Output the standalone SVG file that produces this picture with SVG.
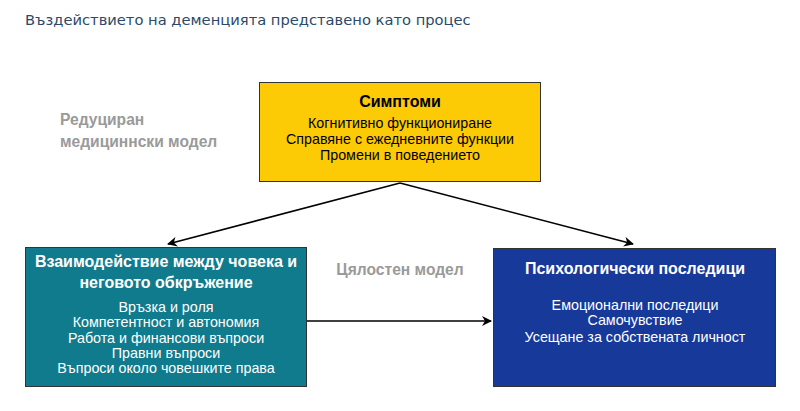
<svg xmlns="http://www.w3.org/2000/svg" width="800" height="411" viewBox="0 0 800 411">
<defs>
<marker id="ah" viewBox="0 0 10 10" refX="9" refY="5" markerWidth="10" markerHeight="10" markerUnits="userSpaceOnUse" orient="auto">
<path d="M0,0 L10,5 L0,10 L3,5 Z" fill="#000"/>
</marker>
<style>
.t{font-family:"Liberation Sans",Arial,sans-serif;text-anchor:middle}
.h{font-weight:bold;font-size:16px}
.b{font-size:14.3px}
.g{font-family:"Liberation Sans",Arial,sans-serif;font-weight:bold;font-size:15.6px;fill:#9a9a9a}
.w{fill:#fff}
.k{fill:#000}
.box{stroke:#333;stroke-width:1}
.c{fill:none;stroke:#000;stroke-width:1.5}
</style>
</defs>
<rect width="800" height="411" fill="#fff"/>
<text x="25" y="25" font-family="DejaVu Sans,Verdana,sans-serif" font-size="14.7" fill="#2b4968">Въздействието на деменцията представено като процес</text>
<text class="g" x="60" y="125">Редуциран</text>
<text class="g" x="60" y="147">медициннски модел</text>
<text class="g" x="400" y="275" text-anchor="middle" font-size="16">Цялостен модел</text>
<g id="connectors">
<line class="c" x1="400" y1="183" x2="168" y2="244" marker-end="url(#ah)"/>
<line class="c" x1="400" y1="183" x2="633" y2="244" marker-end="url(#ah)"/>
<line class="c" x1="307" y1="321" x2="491" y2="321" marker-end="url(#ah)"/>
</g>
<g id="symptoms">
<rect class="box" x="259.5" y="82.5" width="281" height="99" fill="#fccb05"/>
<text class="t h k" x="400" y="107">Симптоми</text>
<text class="t b k" x="400" y="128">Когнитивно функциониране</text>
<text class="t b k" x="400" y="144">Справяне с ежедневните функции</text>
<text class="t b k" x="400" y="160">Промени в поведението</text>
</g>
<g id="interaction">
<rect class="box" x="25.5" y="247.5" width="281" height="139" fill="#107b8d"/>
<text class="t h w" x="166" y="267">Взаимодействие между човека и</text>
<text class="t h w" x="166" y="288">неговото обкръжение</text>
<text class="t b w" x="166" y="312">Връзка и роля</text>
<text class="t b w" x="166" y="327">Компетентност и автономия</text>
<text class="t b w" x="166" y="343">Работа и финансови въпроси</text>
<text class="t b w" x="166" y="358">Правни въпроси</text>
<text class="t b w" x="166" y="373">Въпроси около човешките права</text>
</g>
<g id="psych">
<rect class="box" x="493.5" y="248.5" width="282" height="138" fill="#17399a"/>
<text class="t h w" x="635" y="274">Психологически последици</text>
<text class="t b w" x="635" y="310">Емоционални последици</text>
<text class="t b w" x="635" y="325">Самочувствие</text>
<text class="t b w" x="635" y="342">Усещане за собствената личност</text>
</g>
</svg>
